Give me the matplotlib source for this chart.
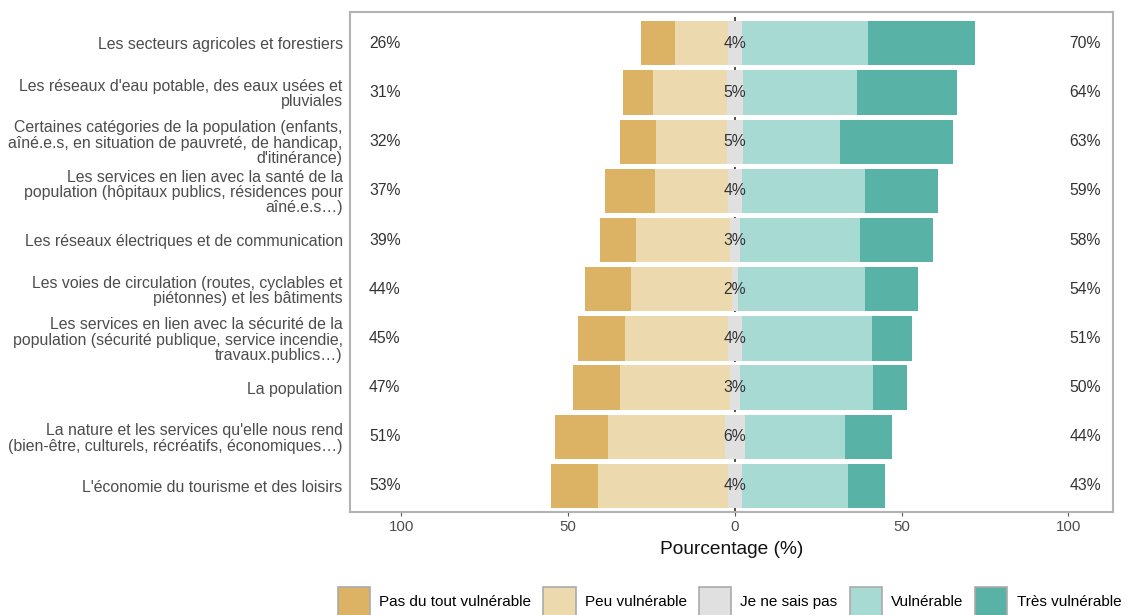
import numpy as np
import matplotlib.pyplot as plt
from matplotlib.patches import Patch

plt.rcParams['font.family'] = ['Liberation Sans', 'DejaVu Sans']

categories = [
    "Les secteurs agricoles et forestiers",
    "Les réseaux d'eau potable, des eaux usées et\npluviales",
    "Certaines catégories de la population (enfants,\naîné.e.s, en situation de pauvreté, de handicap,\nd'itinérance)",
    "Les services en lien avec la santé de la\npopulation (hôpitaux publics, résidences pour\naîné.e.s…)",
    "Les réseaux électriques et de communication",
    "Les voies de circulation (routes, cyclables et\npiétonnes) et les bâtiments",
    "Les services en lien avec la sécurité de la\npopulation (sécurité publique, service incendie,\ntravaux.publics…)",
    "La population",
    "La nature et les services qu'elle nous rend\n(bien-être, culturels, récréatifs, économiques…)",
    "L'économie du tourisme et des loisirs",
]

levels = ["Pas du tout vulnérable", "Peu vulnérable", "Je ne sais pas",
          "Vulnérable", "Très vulnérable"]

pas_du_tout = [10, 9, 11, 15, 11, 14, 14, 14, 16, 14]
peu = [16, 22, 21, 22, 28, 30, 31, 33, 35, 39]
ne_sais_pas = [4, 5, 5, 4, 3, 2, 4, 3, 6, 4]
vulnerable = [38, 34, 29, 37, 36, 38, 39, 40, 30, 32]
tres = [32, 30, 34, 22, 22, 16, 12, 10, 14, 11]

low_pct = [26, 31, 32, 37, 39, 44, 45, 47, 51, 53]
neutral_pct = [4, 5, 5, 4, 3, 2, 4, 3, 6, 4]
high_pct = [70, 64, 63, 59, 58, 54, 51, 50, 44, 43]

colours = ['#DCB264', '#EDD9AE', '#E0E0E0', '#A8DAD4', '#58B2A5']

pas_du_tout = np.array(pas_du_tout)
peu = np.array(peu)
ne_sais_pas = np.array(ne_sais_pas)
vulnerable = np.array(vulnerable)
tres = np.array(tres)

y = np.arange(len(categories))
h = 0.9

fig = plt.figure(figsize=(11.28, 6.15), dpi=100)
ax = fig.add_axes([0.310, 0.1675, 0.677, 0.8125])

# zero line, shows through the gaps between bars
ax.axvline(0, color='#333333', lw=1.2, ls=(0, (3, 3)), zorder=0)

half = ne_sais_pas / 2
ax.barh(y, -peu, h, left=-half, color=colours[1], zorder=2)
ax.barh(y, -pas_du_tout, h, left=-half - peu, color=colours[0], zorder=2)
ax.barh(y, ne_sais_pas, h, left=-half, color=colours[2], zorder=2)
ax.barh(y, vulnerable, h, left=half, color=colours[3], zorder=2)
ax.barh(y, tres, h, left=half + vulnerable, color=colours[4], zorder=2)

for i in range(len(categories)):
    ax.text(-105, y[i], f"{low_pct[i]}%", ha='center', va='center',
            fontsize=11.3, color='#333333', zorder=3)
    ax.text(0, y[i], f"{neutral_pct[i]}%", ha='center', va='center',
            fontsize=11.3, color='#333333', zorder=3)
    ax.text(105, y[i], f"{high_pct[i]}%", ha='center', va='center',
            fontsize=11.3, color='#333333', zorder=3)

ax.set_xlim(-115.5, 113.5)
ax.set_ylim(9.53, -0.63)
ax.set_yticks(y)
ax.set_yticklabels(categories, fontsize=11.4, color='#4D4D4D', linespacing=1.03)
ax.tick_params(axis='y', length=0, pad=5)
ax.set_xticks([-100, -50, 0, 50, 100])
ax.set_xticklabels(['100', '50', '0', '50', '100'], fontsize=10.8, color='#4D4D4D')
ax.tick_params(axis='x', length=3, color='#555555', pad=3)
ax.set_xlabel('Pourcentage (%)', fontsize=13.8, color='#111111', labelpad=5)

for s in ax.spines.values():
    s.set_color('#B3B3B3')
    s.set_linewidth(1.5)

handles = [Patch(facecolor=c, edgecolor='#AAAAAA', linewidth=1.2) for c in colours]
fig.legend(handles, levels, loc='upper left', bbox_to_anchor=(338 / 1128, 1 - 587 / 615),
           ncol=5, frameon=False, borderaxespad=0, borderpad=0,
           handlelength=2.1, handleheight=2.5, handletextpad=0.6, columnspacing=0.8,
           prop={'family': ['Liberation Sans Narrow', 'Liberation Sans'], 'size': 11})

fig.savefig('out.png', dpi=100)
